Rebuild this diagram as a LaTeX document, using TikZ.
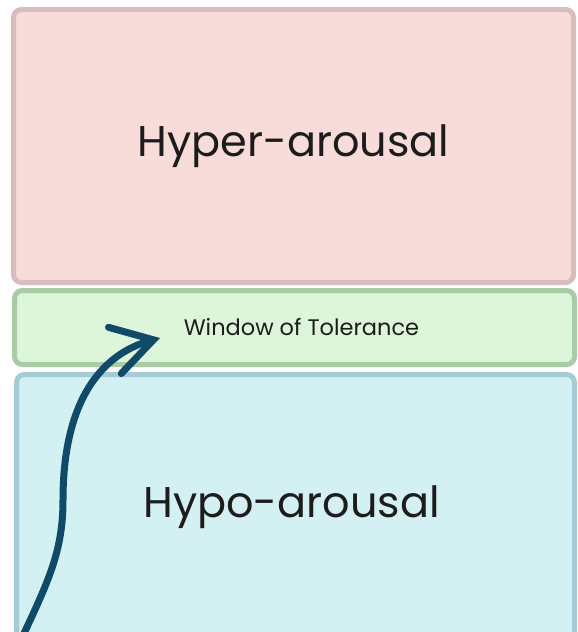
\documentclass[tikz,border=0pt]{standalone}
\usepackage{fontspec}
\setmainfont{Poppins}
\usetikzlibrary{arrows.meta}
\definecolor{hyperfill}{HTML}{F8DCDA}
\definecolor{hyperline}{HTML}{D9BDBC}
\definecolor{windowfill}{HTML}{DDF5D8}
\definecolor{windowline}{HTML}{A9CBA6}
\definecolor{hypofill}{HTML}{D3F0F3}
\definecolor{hypoline}{HTML}{A5CCD4}
\definecolor{arrowcol}{HTML}{0F4A68}
\definecolor{textcol}{HTML}{1C1C1C}
\begin{document}
\begin{tikzpicture}[x=1pt,y=-1pt,
  zone/.style={draw, line width=5pt, rounded corners=8pt, inner sep=0pt, text=textcol},
  path arrow/.style={draw=arrowcol, line width=7pt, line cap=round,
    -{Straight Barb[length=40pt,width=48pt,line cap=round]}}]
\useasboundingbox[fill=white] (0,0) rectangle (578,632);
\node[zone, fill=hyperfill, draw=hyperline, minimum width=560pt, minimum height=273pt,
  font=\fontsize{43}{50}\selectfont] (hyper) at (293.5,146) {Hyper-arousal};
\node[zone, fill=windowfill, draw=windowline, minimum width=560pt, minimum height=74pt,
  font=\fontsize{22.5}{27}\selectfont] (window) at (294.5,327.5) {\hspace*{14pt}Window of Tolerance};
\node[zone, fill=hypofill, draw=hypoline, minimum width=558pt, minimum height=266pt,
  font=\fontsize{43}{50}\selectfont] (hypo) at (295.5,507.5) {Hypo-arousal\hspace*{8pt}};
\coordinate (start) at (20,642);
\coordinate (tip) at (160,338);
\path[path arrow] (start) .. controls (48,582) and (63,552) .. (63,500)
  .. controls (63,400) and (102,354) .. (tip);
\end{tikzpicture}
\end{document}
